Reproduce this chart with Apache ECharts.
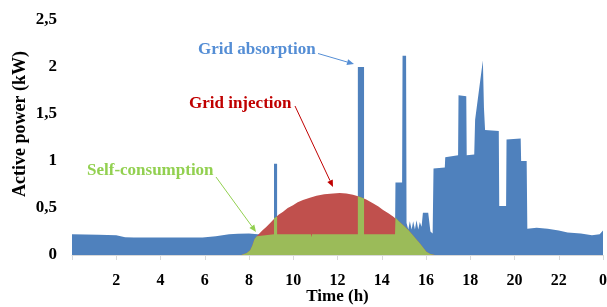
<!DOCTYPE html>
<html>
<head>
<meta charset="utf-8">
<script src="https://cdn.jsdelivr.net/npm/echarts@6/dist/echarts.min.js"></script>
<style>
html, body { margin: 0; padding: 0; background: #fff; }
#chart { width: 607px; height: 307px; }
</style>
</head>
<body>
<div id="chart"></div>
<script>
// 横轴刻度 (h)
const hourTicks = [0, 2, 4, 6, 8, 10, 12, 14, 16, 18, 20, 22, 24]
const powerTicks = [0, 0.5, 1, 1.5, 2, 2.5]

// 负荷 (grid absorption + self-consumption) [h, kW]
const loadData = [
    [0, 0.22], [1.2, 0.215], [2.0, 0.21], [2.4, 0.19], [2.8, 0.185], [5.9, 0.185],
    [6.5, 0.2], [7.1, 0.22], [7.5, 0.225], [8.0, 0.23], [8.4, 0.22],
    [9.13, 0.22], [9.13, 0.97], [9.27, 0.97], [9.27, 0.22],
    [10.8, 0.22], [10.82, 0.19], [10.85, 0.22],
    [12.92, 0.22], [12.92, 2.0], [13.2, 2.0], [13.2, 0.22],
    [14.6, 0.22], [14.62, 0.77], [14.92, 0.77], [14.94, 2.12], [15.1, 2.12],
    [15.12, 0.34], [15.2, 0.27], [15.27, 0.36], [15.35, 0.27], [15.42, 0.36],
    [15.5, 0.27], [15.57, 0.37], [15.65, 0.27], [15.72, 0.35], [15.8, 0.3],
    [15.86, 0.45], [16.1, 0.45], [16.2, 0.25], [16.3, 0.23],
    [16.34, 0.92], [16.85, 0.93], [16.87, 1.04], [17.45, 1.06],
    [17.47, 1.70], [17.82, 1.69], [17.84, 1.06], [18.18, 1.07],
    [18.22, 1.44], [18.57, 2.07], [18.62, 1.56], [18.67, 1.33],
    [19.29, 1.32], [19.31, 0.52], [19.62, 0.52], [19.64, 1.23],
    [20.28, 1.24], [20.3, 1.0], [20.55, 1.0], [20.58, 0.28],
    [21.0, 0.29], [21.5, 0.28], [22.0, 0.26], [22.4, 0.24], [23.0, 0.23],
    [23.5, 0.21], [23.85, 0.22], [24, 0.26]
]

// 光伏出力 (grid injection 上沿) [h, kW]
const pvData = [
    [7.65, 0], [7.9, 0.02], [8.05, 0.05], [8.15, 0.1], [8.25, 0.17], [8.35, 0.2],
    [8.42, 0.22], [8.6, 0.26], [8.79, 0.30], [9.0, 0.35], [9.16, 0.39], [9.35, 0.43],
    [9.54, 0.46], [9.75, 0.5], [9.99, 0.53], [10.2, 0.56], [10.44, 0.585],
    [10.75, 0.61], [11.05, 0.63], [11.4, 0.645], [11.8, 0.655], [12.1, 0.66],
    [12.4, 0.655], [12.7, 0.64], [13.0, 0.62], [13.3, 0.59], [13.6, 0.55],
    [13.85, 0.515], [14.06, 0.48], [14.3, 0.445], [14.51, 0.41], [14.75, 0.365],
    [14.96, 0.32], [15.2, 0.265], [15.41, 0.21], [15.55, 0.17], [15.72, 0.125],
    [15.87, 0.08], [16.02, 0.035], [16.2, 0.01], [16.4, 0]
]

// 自消费 [h, kW]
const selfData = [
    [7.65, 0], [7.9, 0.02], [8.05, 0.05], [8.15, 0.1], [8.25, 0.17], [8.35, 0.2],
    [8.42, 0.22], [9.13, 0.22], [9.13, 0.39], [9.27, 0.41], [9.27, 0.22],
    [10.8, 0.22], [10.82, 0.19], [10.85, 0.22],
    [12.92, 0.22], [12.92, 0.625], [13.2, 0.60], [13.2, 0.22],
    [14.6, 0.22], [14.62, 0.40], [14.75, 0.365], [14.96, 0.32], [15.2, 0.265],
    [15.41, 0.21], [15.55, 0.17], [15.72, 0.125], [15.87, 0.08], [16.02, 0.035],
    [16.2, 0.01], [16.4, 0]
]

const FONT = '"Liberation Serif", "Times New Roman", serif'

function arrow (x1, y1, x2, y2, color) { // 带箭头的引线
    const a = Math.atan2(y2 - y1, x2 - x1)
    const len = 7, w = 3
    const bx = x2 - len * Math.cos(a), by = y2 - len * Math.sin(a)
    return [{
        type: 'line',
        shape: {x1: x1, y1: y1, x2: bx, y2: by},
        style: {stroke: color, lineWidth: 1}
    }, {
        type: 'polygon',
        shape: {points: [
            [x2, y2],
            [bx + w * Math.sin(a), by - w * Math.cos(a)],
            [bx - w * Math.sin(a), by + w * Math.cos(a)]
        ]},
        style: {fill: color}
    }]
}

function label (text, x, y, color) {
    return {
        type: 'text', x: x, y: y,
        style: {
            text: text, fill: color, font: 'bold 17px ' + FONT,
            textAlign: 'left', textVerticalAlign: 'middle'
        }
    }
}

const chart = echarts.init(document.getElementById('chart'))
const option = {
    animation: false,
    grid: {left: 72, right: 4, top: 20, bottom: 52, outerBoundsMode: 'none', containLabel: false},
    xAxis: {
        type: 'value', min: hourTicks[0], max: hourTicks[hourTicks.length - 1], interval: 2,
        name: 'Time (h)', nameLocation: 'middle', nameGap: 33, nameMoveOverlap: false,
        nameTextStyle: {fontFamily: FONT, fontWeight: 'bold', fontSize: 17, color: '#000'},
        axisLine: {lineStyle: {color: '#d9d9d9'}},
        axisTick: {length: 5, lineStyle: {color: '#d9d9d9'}},
        axisLabel: {
            margin: 18, fontFamily: FONT, fontWeight: 'bold', fontSize: 16, color: '#000',
            formatter: v => v === 0 ? '' : (v === 24 ? '0' : String(v))
        },
        splitLine: {show: false}
    },
    yAxis: {
        type: 'value', min: powerTicks[0], max: powerTicks[powerTicks.length - 1], interval: 0.5,
        axisLine: {show: false},
        axisTick: {show: false},
        axisLabel: {
            margin: 15, fontFamily: FONT, fontWeight: 'bold', fontSize: 17, color: '#000',
            formatter: v => String(v).replace('.', ',')
        },
        splitLine: {show: false}
    },
    series: [{
        name: 'Grid absorption', type: 'line', data: loadData, symbol: 'none',
        lineStyle: {width: 0}, areaStyle: {color: '#4f81bd', opacity: 1}, z: 2
    }, {
        name: 'Grid injection', type: 'line', data: pvData, symbol: 'none',
        lineStyle: {width: 0}, areaStyle: {color: '#c0504d', opacity: 1}, z: 3
    }, {
        name: 'Self-consumption', type: 'line', data: selfData, symbol: 'none',
        lineStyle: {width: 0}, areaStyle: {color: '#9bbb59', opacity: 1}, z: 4
    }],
    graphic: [{
        type: 'text', x: 20, y: 124, rotation: Math.PI / 2,
        style: {
            text: 'Active power (kW)', fill: '#000', font: 'bold 18px ' + FONT,
            textAlign: 'center', textVerticalAlign: 'middle'
        }
    },
    label('Grid absorption', 198, 50, '#558ed5'),
    label('Grid injection', 189, 104, '#c00000'),
    label('Self-consumption', 87, 171, '#92d050')
    ].concat(
        arrow(318, 53.5, 354, 64, '#558ed5'),
        arrow(295, 106, 333, 187, '#c00000'),
        arrow(216, 177, 256, 232, '#92d050')
    )
}
chart.setOption(option)
</script>
</body>
</html>
